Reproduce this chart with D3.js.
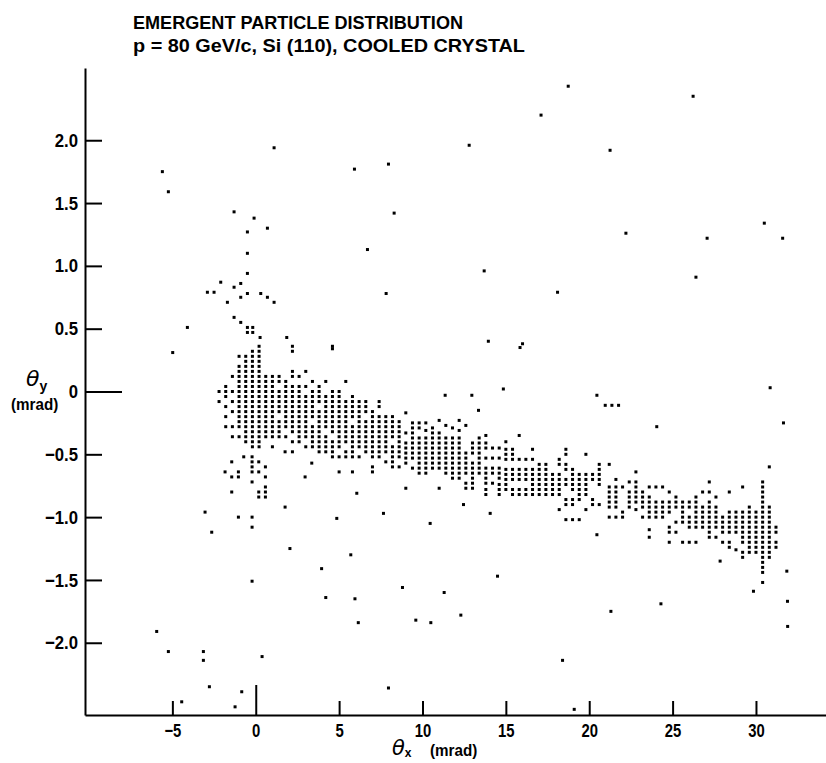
<!DOCTYPE html>
<html><head><meta charset="utf-8">
<script src="https://cdn.jsdelivr.net/npm/d3@7"></script>
<style>
body{margin:0;background:#fff}
svg{display:block}
text{font-family:"Liberation Sans",Arial,sans-serif;font-weight:bold;fill:#000}
</style>
</head><body>
<svg id="c" width="826" height="763"></svg>
<script>
const titleLines = ["EMERGENT PARTICLE DISTRIBUTION", "p = 80 GeV/c, Si (110), COOLED CRYSTAL"];
const xTicks = [-5, 0, 5, 10, 15, 20, 25, 30];
const xTickLabels = ["\u22125", "0", "5", "10", "15", "20", "25", "30"];
const yTicks = [-2, -1.5, -1, -0.5, 0, 0.5, 1, 1.5, 2];
const yTickLabels = ["\u22122.0", "\u22121.5", "\u22121.0", "\u22120.5", "0", "0.5", "1.0", "1.5", "2.0"];

// dense channeled band: columns of theta_x (mrad) with the theta_y (mrad) of each recorded cell
const bandCols = [
 {x:-2.2, y:[0.0,-0.08]},
 {x:-1.8, y:[0.04,0.0,-0.04,-0.12,-0.2,-0.28]},
 {x:-1.4, y:[0.12,0.0,-0.08,-0.16,-0.28,-0.36]},
 {x:-1.0, y:[0.28,0.2,0.16,0.12,0.08,0.04,0,-0.04,-0.08,-0.12,-0.16,-0.2,-0.24,-0.28,-0.36]},
 {x:-0.6, y:[0.28,0.24,0.2,0.16,0.12,0.08,0.04,0,-0.04,-0.08,-0.12,-0.16,-0.2,-0.24,-0.28,-0.32,-0.36,-0.4]},
 {x:-0.2, y:[0.32,0.28,0.24,0.2,0.16,0.12,0.08,0.04,0,-0.04,-0.08,-0.12,-0.16,-0.2,-0.24,-0.28,-0.32,-0.36,-0.4,-0.44]},
 {x:0.2, y:[0.36,0.32,0.28,0.24,0.2,0.16,0.12,0.08,0.04,0,-0.04,-0.08,-0.12,-0.16,-0.2,-0.24,-0.28,-0.32,-0.36,-0.4,-0.44]},
 {x:0.6, y:[0.12,0.08,0.04,0,-0.04,-0.08,-0.12,-0.16,-0.2,-0.24,-0.28,-0.32,-0.36]},
 {x:1.0, y:[0.12,0.08,0.04,0,-0.04,-0.08,-0.12,-0.16,-0.2,-0.24,-0.28,-0.32,-0.36,-0.44]},
 {x:1.4, y:[0.12,0.08,0,-0.04,-0.08,-0.12,-0.16,-0.24,-0.28,-0.32,-0.36]},
 {x:1.8, y:[0.08,0.04,0,-0.04,-0.08,-0.12,-0.16,-0.2,-0.24,-0.28,-0.36]},
 {x:2.2, y:[0.36,0.32,0.16,0.12,0.04,0,-0.04,-0.08,-0.12,-0.16,-0.2,-0.24,-0.28,-0.32,-0.4,-0.48]},
 {x:2.6, y:[0.12,0.04,0,-0.04,-0.08,-0.12,-0.16,-0.2,-0.24,-0.28,-0.32,-0.36,-0.4]},
 {x:3.0, y:[0.16,0.04,-0.04,-0.08,-0.12,-0.16,-0.2,-0.24,-0.28,-0.32,-0.36,-0.44]},
 {x:3.4, y:[0.08,0,-0.04,-0.08,-0.12,-0.16,-0.2,-0.28,-0.32,-0.36,-0.4,-0.44]},
 {x:3.8, y:[0.04,0,-0.04,-0.08,-0.16,-0.2,-0.24,-0.28,-0.32,-0.36,-0.4,-0.44,-0.48]},
 {x:4.2, y:[0.08,-0.04,-0.08,-0.12,-0.16,-0.2,-0.24,-0.28,-0.36,-0.4,-0.44,-0.48]},
 {x:4.6, y:[0.36,0,-0.04,-0.08,-0.12,-0.16,-0.2,-0.24,-0.28,-0.32,-0.4,-0.44,-0.48,-0.52]},
 {x:5.0, y:[0,-0.04,-0.08,-0.12,-0.16,-0.2,-0.24,-0.28,-0.32,-0.36,-0.4,-0.44,-0.52,-0.64]},
 {x:5.4, y:[0.08,-0.08,-0.12,-0.16,-0.2,-0.24,-0.28,-0.32,-0.36,-0.4,-0.48,-0.52]},
 {x:5.8, y:[-0.04,-0.08,-0.12,-0.16,-0.2,-0.28,-0.32,-0.36,-0.4,-0.44,-0.48,-0.52,-0.64]},
 {x:6.2, y:[-0.08,-0.12,-0.16,-0.2,-0.24,-0.28,-0.32,-0.36,-0.4,-0.44,-0.52]},
 {x:6.6, y:[-0.08,-0.12,-0.16,-0.24,-0.28,-0.32,-0.36,-0.4,-0.44,-0.48]},
 {x:7.0, y:[-0.16,-0.2,-0.24,-0.28,-0.32,-0.36,-0.4,-0.44,-0.48,-0.52,-0.6,-0.64]},
 {x:7.4, y:[-0.08,-0.12,-0.2,-0.24,-0.28,-0.32,-0.36,-0.4,-0.44,-0.48,-0.52]},
 {x:7.8, y:[-0.2,-0.24,-0.28,-0.32,-0.36,-0.4,-0.44,-0.48,-0.56]},
 {x:8.2, y:[-0.2,-0.24,-0.28,-0.32,-0.36,-0.44,-0.48,-0.52,-0.56,-0.6]},
 {x:8.6, y:[-0.24,-0.28,-0.32,-0.36,-0.4,-0.44,-0.48,-0.52,-0.6]},
 {x:9.0, y:[-0.17,-0.33,-0.41,-0.45,-0.49,-0.53,-0.57,-0.77]},
 {x:9.4, y:[-0.25,-0.29,-0.33,-0.37,-0.41,-0.45,-0.49,-0.53,-0.61]},
 {x:9.8, y:[-0.25,-0.29,-0.37,-0.41,-0.45,-0.49,-0.53,-0.57,-0.61,-0.65]},
 {x:10.2, y:[-0.25,-0.31,-0.37,-0.41,-0.45,-0.49,-0.53,-0.57,-0.61,-0.65]},
 {x:10.6, y:[-0.29,-0.33,-0.37,-0.41,-0.45,-0.49,-0.53,-0.57,-0.61]},
 {x:11.0, y:[-0.23,-0.33,-0.37,-0.41,-0.45,-0.49,-0.53,-0.57,-0.61,-0.77]},
 {x:11.4, y:[-0.27,-0.37,-0.41,-0.45,-0.49,-0.53,-0.57,-0.61,-0.65]},
 {x:11.8, y:[-0.29,-0.37,-0.41,-0.45,-0.49,-0.53,-0.57,-0.61,-0.65,-0.69]},
 {x:12.2, y:[-0.23,-0.31,-0.37,-0.41,-0.45,-0.49,-0.53,-0.57,-0.61,-0.65,-0.69]},
 {x:12.6, y:[-0.27,-0.49,-0.53,-0.57,-0.61,-0.65,-0.73,-0.77]},
 {x:13.0, y:[-0.41,-0.45,-0.49,-0.57,-0.61,-0.65,-0.69,-0.73,-0.77]},
 {x:13.4, y:[-0.37,-0.41,-0.45,-0.49,-0.53,-0.57,-0.61,-0.65]},
 {x:13.8, y:[-0.35,-0.41,-0.45,-0.53,-0.61,-0.65,-0.69,-0.73,-0.78,-0.82]},
 {x:14.2, y:[-0.45,-0.53,-0.61,-0.65,-0.73]},
 {x:14.6, y:[-0.45,-0.53,-0.61,-0.65,-0.69,-0.74,-0.78,-0.82]},
 {x:15.0, y:[-0.40,-0.46,-0.50,-0.54,-0.62,-0.66,-0.70,-0.74,-0.78]},
 {x:15.4, y:[-0.46,-0.50,-0.54,-0.62,-0.66,-0.70,-0.78,-0.82]},
 {x:15.8, y:[-0.35,-0.54,-0.62,-0.66,-0.70,-0.78,-0.82]},
 {x:16.2, y:[-0.54,-0.62,-0.66,-0.70,-0.78,-0.82]},
 {x:16.6, y:[-0.46,-0.54,-0.62,-0.66,-0.70,-0.74,-0.78,-0.82]},
 {x:17.0, y:[-0.58,-0.62,-0.66,-0.70,-0.74,-0.78,-0.82]},
 {x:17.4, y:[-0.58,-0.62,-0.66,-0.70,-0.74,-0.78,-0.82]},
 {x:17.8, y:[-0.66,-0.70,-0.74,-0.78,-0.82]},
 {x:18.2, y:[-0.54,-0.58,-0.66,-0.70,-0.74,-0.78,-0.82,-0.94]},
 {x:18.6, y:[-0.46,-0.50,-0.58,-0.62,-0.70,-0.74,-0.86,-0.90,-1.02]},
 {x:19.0, y:[-0.62,-0.66,-0.70,-0.74,-0.78,-0.86,-0.90,-1.02]},
 {x:19.4, y:[-0.66,-0.70,-0.74,-0.78,-0.82,-0.86,-1.02]},
 {x:19.8, y:[-0.50,-0.66,-0.70,-0.74,-0.78,-0.82,-0.94]},
 {x:20.2, y:[-0.66,-0.70,-0.86,-0.90]},
 {x:20.6, y:[-0.58,-0.62,-0.66,-0.70,-0.74,-0.90]},
 {x:21.2, y:[-0.58,-0.76,-0.80,-0.84,-0.88,-0.92,-1.0]},
 {x:21.6, y:[-0.70,-0.76,-0.80,-0.84,-0.88,-0.92,-1.0]},
 {x:22.0, y:[-0.76,-0.96,-1.0]},
 {x:22.4, y:[-0.72,-0.80,-0.84,-0.88,-0.92]},
 {x:22.8, y:[-0.64,-0.72,-0.76,-0.80,-0.84,-0.88,-0.94]},
 {x:23.2, y:[-0.80,-0.84,-0.88,-0.92,-1.0]},
 {x:23.6, y:[-0.76,-0.84,-0.88,-0.92,-0.96,-1.0,-1.10,-1.16]},
 {x:24.0, y:[-0.76,-0.88,-0.92,-0.96,-1.0]},
 {x:24.4, y:[-0.76,-0.88,-0.92,-0.96,-1.0]},
 {x:24.8, y:[-0.80,-0.88,-0.92,-0.96,-1.08,-1.12,-1.20]},
 {x:25.2, y:[-0.84,-0.88,-0.92,-1.04,-1.12]},
 {x:25.6, y:[-0.88,-0.92,-0.96,-1.0,-1.04,-1.20]},
 {x:26.0, y:[-0.88,-0.92,-1.0,-1.04,-1.08,-1.20]},
 {x:26.4, y:[-0.84,-0.88,-0.92,-0.96,-1.0,-1.04,-1.08,-1.20]},
 {x:26.8, y:[-0.80,-0.92,-0.96,-1.0,-1.04,-1.08]},
 {x:27.2, y:[-0.72,-0.80,-0.88,-0.92,-0.96,-1.0,-1.04,-1.08,-1.12,-1.16]},
 {x:27.6, y:[-0.84,-0.92,-0.96,-1.0,-1.04,-1.08,-1.16]},
 {x:28.0, y:[-1.0,-1.04,-1.08,-1.12,-1.20]},
 {x:28.4, y:[-0.80,-0.96,-1.0,-1.04,-1.08,-1.12,-1.20,-1.24]},
 {x:28.8, y:[-0.96,-1.0,-1.04,-1.08,-1.12,-1.26]},
 {x:29.2, y:[-0.76,-0.96,-1.0,-1.04,-1.08,-1.12,-1.16,-1.20,-1.28,-1.32]},
 {x:29.6, y:[-0.92,-0.96,-1.0,-1.04,-1.08,-1.12,-1.16,-1.20,-1.24,-1.28]},
 {x:30.0, y:[-0.96,-1.0,-1.04,-1.08,-1.12,-1.16,-1.20,-1.24,-1.28]},
 {x:30.4, y:[-0.72,-0.76,-0.80,-0.84,-0.88,-0.92,-0.96,-1.0,-1.04,-1.08,-1.12,-1.16,-1.20,-1.24,-1.28,-1.32,-1.36,-1.40,-1.44,-1.52]},
 {x:30.8, y:[-0.92,-0.96,-1.0,-1.04,-1.08,-1.12,-1.16,-1.20,-1.24,-1.28,-1.32]},
 {x:31.2, y:[-1.08,-1.12,-1.20,-1.24]}
];

// isolated particles [theta_x, theta_y] (mrad)
const outliers = [
 [-5.6,1.75],[-5.24,1.59],[1.1,1.94],[5.92,1.77],[7.96,1.81],[8.3,1.42],[6.7,1.13],[7.82,0.78],
 [-1.3,1.43],[-0.1,1.38],[0.7,1.3],[-0.5,1.27],[-0.5,1.1],[-0.5,0.94],[-2.1,0.87],[-0.9,0.86],[-1.3,0.83],
 [-2.9,0.79],[-2.5,0.79],[-0.5,0.78],[0.3,0.78],[0.7,0.75],[-0.9,0.75],[1.1,0.71],[-1.7,0.71],[-1.3,0.59],
 [-0.9,0.55],[-0.5,0.51],[-0.18,0.51],[-0.5,0.47],[-0.18,0.47],[0.26,0.43],[1.86,0.43],[4.6,0.34],[-4.1,0.51],[-4.98,0.31],
 [18.74,2.43],[26.23,2.35],[17.11,2.2],[12.8,1.96],[21.25,1.92],[22.2,1.26],[27.07,1.22],[30.5,1.34],[31.6,1.22],
 [13.7,0.96],[26.4,0.91],[18.1,0.79],[13.95,0.4],[16.0,0.38],[15.85,0.35],[14.85,0.02],[30.85,0.03],
 [11.36,-0.03],[12.96,-0.03],[13.36,-0.15],[20.46,-0.03],[20.96,-0.11],[21.36,-0.11],[21.76,-0.11],[24.05,-0.28],[31.65,-0.25],[30.8,-0.6],
 [-0.72,-0.52],[-0.22,-0.52],[-0.22,-0.56],[0.18,-0.56],[-1.44,-0.56],[-0.22,-0.6],[-1.84,-0.64],[-1.44,-0.68],[-1.04,-0.68],[-1.04,-0.64],
 [-0.22,-0.64],[0.18,-0.64],[0.58,-0.6],[0.58,-0.68],[-0.22,-0.72],[0.58,-0.76],[0.58,-0.8],[0.18,-0.8],[0.18,-0.84],[0.58,-0.84],[-1.44,-0.8],
 [1.76,-0.48],[2.96,-0.68],[3.36,-0.57],[6.06,-0.81],[1.76,-0.92],[4.86,-1.01],[7.66,-0.97],
 [-3.04,-0.96],[-2.64,-1.12],[-1.04,-1.0],[-0.22,-1.0],[-0.22,-1.08],[-0.22,-1.51],[-5.94,-1.91],[-5.24,-2.07],[-3.14,-2.07],[-3.14,-2.14],
 [-2.78,-2.35],[-0.84,-2.39],[-1.24,-2.51],[-4.44,-2.47],[0.38,-2.11],
 [2.05,-1.25],[3.95,-1.41],[4.2,-1.64],[5.7,-1.3],[5.95,-1.65],[6.15,-1.84],[7.96,-2.36],
 [8.8,-1.56],[9.6,-1.82],[10.5,-1.84],[11.3,-1.6],[12.3,-1.78],[14.5,-1.47],[12.46,-0.9],[14.06,-0.97],[10.46,-1.05],
 [18.4,-2.14],[19.1,-2.53],[20.46,-1.14],[21.3,-1.75],[24.3,-1.69],
 [27.85,-1.35],[31.85,-1.43],[29.85,-1.59],[31.89,-1.67],[31.9,-1.87]
];

const svg = d3.select("#c");
const x = d3.scaleLinear().domain([-10.24, 34.2]).range([85, 826]);
const y = d3.scaleLinear().domain([-2.575, 2.575]).range([715, 68]);

// narrow plotter-like lettering: compress each text horizontally
function squeeze(sel, f) {
  sel.each(function () {
    const w = this.getComputedTextLength();
    this.setAttribute("textLength", (w * f).toFixed(1));
    this.setAttribute("lengthAdjust", "spacingAndGlyphs");
  });
}

const pts = bandCols.flatMap(c => c.y.map(v => [c.x, v])).concat(outliers);
svg.append("g").selectAll("rect").data(pts).join("rect")
  .attr("x", d => x(d[0]) - 1.5).attr("y", d => y(d[1]) - 1.5)
  .attr("width", 3).attr("height", 3).attr("fill", "#000");

// x axis
const gx = svg.append("g").attr("transform", "translate(0,715)")
  .call(d3.axisBottom(x).tickValues(xTicks).tickFormat((d, i) => xTickLabels[i])
    .tickSizeInner(-14).tickSizeOuter(0).tickPadding(9));
gx.select(".domain").attr("stroke", "#000").attr("stroke-width", 2);
gx.selectAll(".tick line").attr("stroke", "#000").attr("stroke-width", 2)
  .filter(d => d === 0).attr("y2", -30);
gx.selectAll(".tick text").attr("font-size", 19).attr("font-family", null).attr("fill", "#000");
squeeze(gx.selectAll(".tick text"), 0.78);

// y axis
const gy = svg.append("g").attr("transform", "translate(85,0)")
  .call(d3.axisLeft(y).tickValues(yTicks).tickFormat((d, i) => yTickLabels[i])
    .tickSizeInner(-17).tickSizeOuter(0).tickPadding(7));
gy.select(".domain").attr("stroke", "#000").attr("stroke-width", 2);
gy.selectAll(".tick line").attr("stroke", "#000").attr("stroke-width", 2)
  .filter(d => d === 0).attr("x2", 37);
gy.selectAll(".tick text").attr("font-size", 19).attr("font-family", null).attr("fill", "#000");
squeeze(gy.selectAll(".tick text"), 0.88);

// titles
svg.append("text").attr("x", 133).attr("y", 29).attr("font-size", 19)
  .attr("textLength", 330).attr("lengthAdjust", "spacingAndGlyphs").text(titleLines[0]);
svg.append("text").attr("x", 133).attr("y", 52).attr("font-size", 19)
  .attr("textLength", 392).attr("lengthAdjust", "spacingAndGlyphs").text(titleLines[1]);

// axis titles
const ty = svg.append("text").attr("x", 26).attr("y", 386);
ty.append("tspan").style("font-family", "DejaVu Sans").style("font-style", "italic").style("font-weight", "normal").style("font-size", "22px").text("\u03b8");
ty.append("tspan").attr("dy", 5).style("font-size", "14px").text("y");
const my = svg.append("text").attr("x", 11).attr("y", 410).attr("font-size", 16).text("(mrad)");
squeeze(my, 0.95);

const tx = svg.append("text").attr("x", 392).attr("y", 755);
tx.append("tspan").style("font-family", "DejaVu Sans").style("font-style", "italic").style("font-weight", "normal").style("font-size", "21px").text("\u03b8");
tx.append("tspan").attr("dy", 2).style("font-size", "12px").text("x");
const mx = svg.append("text").attr("x", 430).attr("y", 756).attr("font-size", 16).text("(mrad)");
squeeze(mx, 0.95);
</script>
</body></html>
